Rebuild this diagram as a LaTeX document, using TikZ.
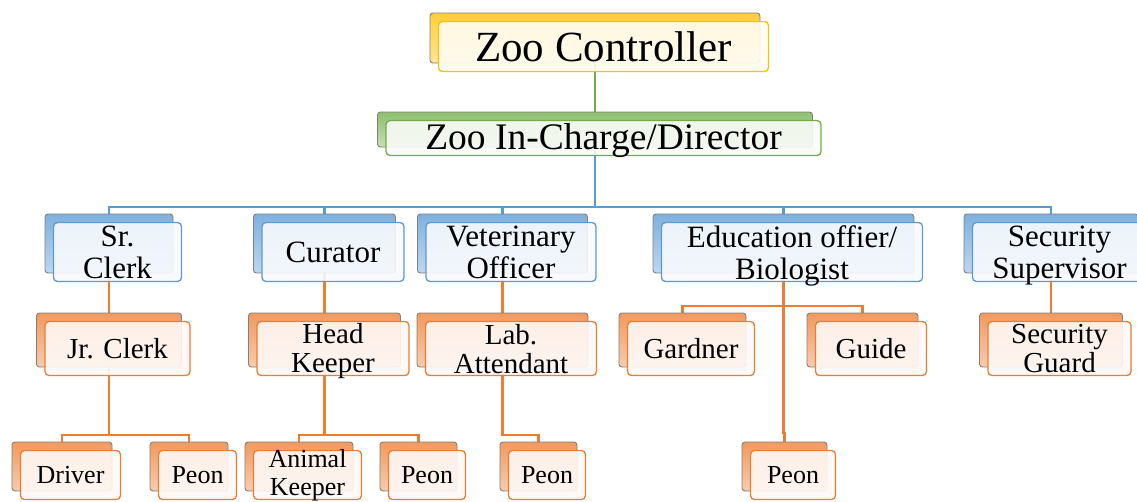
\documentclass[tikz,border=0pt]{standalone}
\usepackage{fontspec}
\setmainfont{Liberation Serif}
\usetikzlibrary{backgrounds}
\definecolor{zgold}{HTML}{FFC000}
\definecolor{zgreen}{HTML}{70AD47}
\definecolor{zblue}{HTML}{5B9BD5}
\definecolor{zorange}{HTML}{ED7D31}
\tikzset{
	backbox/.style={draw=black!50, line width=0.9pt, rounded corners=3pt, inner sep=0pt, top color=#1!78, bottom color=#1!40},
	frontbox/.style={draw=#1, line width=1.3pt, rounded corners=4pt, inner sep=0pt, fill=#1!5, fill opacity=0.9},
	txt/.style={inner sep=0pt, align=center, text=black},
	link/.style={draw=#1, line width=2.5pt},
}

\begin{document}
\begin{tikzpicture}[x=1pt, y=-1pt]
	\useasboundingbox (0,0) rectangle (1137,501);

	% top two posts
	\node[backbox=zgold, minimum width=330, minimum height=50] (zc) at (595,38) {};
	\node[frontbox=zgold, minimum width=330, minimum height=50] (zc-f) at ([shift={(8.5,8.5)}]zc.center) {};
	\node[txt, font=\fontsize{43}{43}\selectfont] (zc-t) at (zc-f) {Zoo Controller};

	\node[backbox=zgreen, minimum width=435, minimum height=35] (dir) at (595,129.5) {};
	\node[frontbox=zgreen, minimum width=435, minimum height=35] (dir-f) at ([shift={(8.5,8.5)}]dir.center) {};
	\node[txt, font=\fontsize{37.5}{38}\selectfont] (dir-t) at ([yshift=-2.5]dir-f.center) {Zoo In-Charge/Director};

	% heads of sections
	\foreach \n/\x/\w/\dy/\lbl in {
	sc/109/128/0/{Sr.\\Clerk},
	cu/324.5/142/0/{Curator},
	vo/502.5/170/0/{Veterinary\\Officer},
	eo/783.5/261/-4/{Education offier/\\Biologist},
	ss/1051/174/-4/{Security\\Supervisor}}
	{
		\node[backbox=zblue, minimum width=\w, minimum height=59] (\n) at (\x,243.5) {};
		\node[frontbox=zblue, minimum width=\w, minimum height=59] (\n-f) at ([shift={(8.5,8.5)}]\n.center) {};
		\node[txt, font=\fontsize{31}{32}\selectfont] (\n-t) at ([yshift=\dy]\n-f.center) {\lbl};
	};

	% staff
	\foreach \n/\x/\w/\dy/\lbl in {
	jc/109/145/0/{Jr. Clerk},
	hk/324.5/152/-3/{Head\\Keeper},
	la/502.5/171/-1/{Lab.\\Attendant},
	gd/682.5/127/0/{Gardner},
	gu/862.5/111/0/{Guide},
	sg/1051/143/0/{Security\\Guard}}
	{
		\node[backbox=zorange, minimum width=\w, minimum height=54] (\n) at (\x,340) {};
		\node[frontbox=zorange, minimum width=\w, minimum height=54] (\n-f) at ([shift={(8.5,8.5)}]\n.center) {};
		\node[txt, font=\fontsize{29}{29}\selectfont] (\n-t) at ([yshift=\dy]\n-f.center) {\lbl};
	};

	\foreach \n/\x/\w/\lbl in {
	dv/62/100/{Driver},
	pa/189/78/{Peon},
	ak/299/108/{Animal\\Keeper},
	pb/418.5/77/{Peon},
	pc/538.5/77/{Peon},
	pd/784.5/85/{Peon}}
	{
		\node[backbox=zorange, minimum width=\w, minimum height=49] (\n) at (\x,466.5) {};
		\node[frontbox=zorange, minimum width=\w, minimum height=49] (\n-f) at ([shift={(8.5,8.5)}]\n.center) {};
		\node[txt, font=\fontsize{26}{28}\selectfont] (\n-t) at (\n-f) {\lbl};
	};

	\begin{scope}[on background layer]
		\draw[link=zgreen] (zc) -- (dir);
		\coordinate (bus) at (595,207);
		\foreach \c in {sc,cu,vo,eo,ss}
		{
			\draw[link=zblue] (dir) -- (bus) -| (\c);
		};
		\foreach \i / \j in {sc/jc, cu/hk, vo/la, ss/sg}
		{
			\draw[link=zorange] (\i) -- (\j);
		};
		\foreach \i / \j / \k in {jc/dv/pa, hk/ak/pb, la/pc/pc}
		{
			\draw[link=zorange] (\i) -- (\i |- 0,435) -| (\j);
			\draw[link=zorange] (\i |- 0,435) -| (\k);
		};
		\draw[link=zorange] (eo) -- (eo |- 0,306) -| (gd);
		\draw[link=zorange] (eo |- 0,306) -| (gu);
		\draw[link=zorange] (eo) -- (eo |- 0,433) -| (pd);
	\end{scope}
\end{tikzpicture}
\end{document}
